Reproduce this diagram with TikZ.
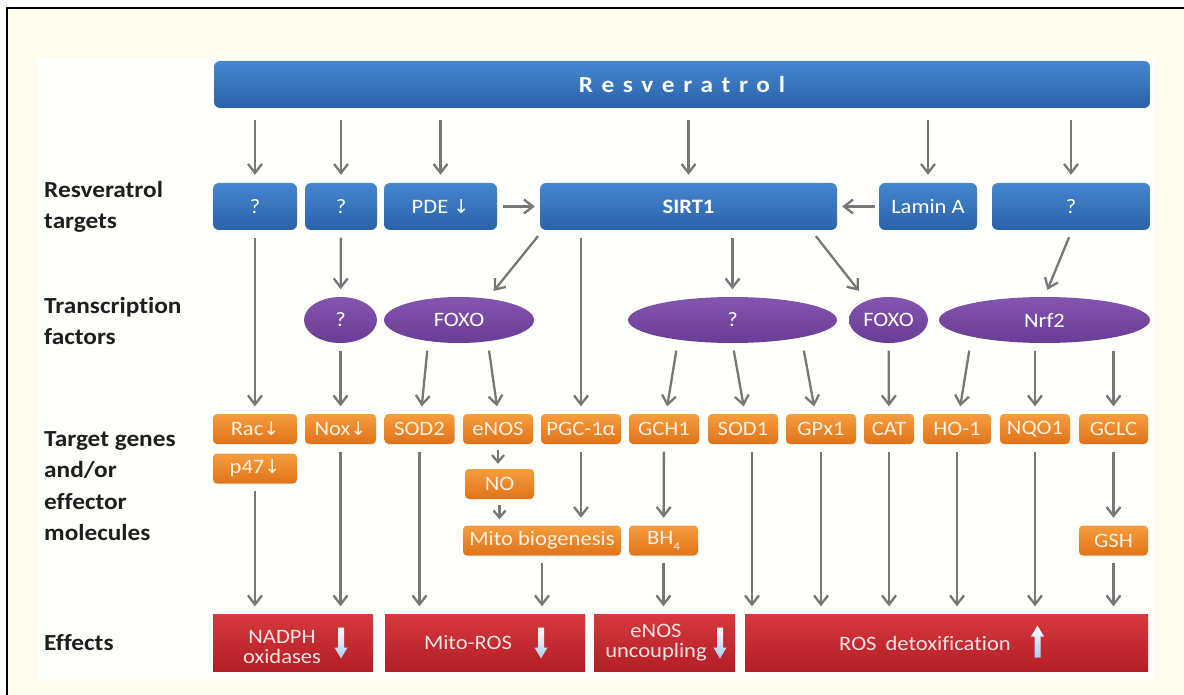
\documentclass[tikz,border=0pt]{standalone}
\usepackage{fontspec}
\setmainfont{Carlito}[FakeStretch=1.1,Ligatures=NoCommon]
\newfontfamily\symf{DejaVu Sans}
\newfontfamily\barfont{Carlito}[FakeStretch=1.1,LetterSpace=38]
\usetikzlibrary{arrows.meta,calc,shapes.geometric}
\definecolor{cream}{HTML}{FFFCEE}
\definecolor{panel}{HTML}{FFFFFB}
\definecolor{blueT}{HTML}{4587D0}
\definecolor{blueB}{HTML}{2A62A8}
\definecolor{purT}{HTML}{8455AE}
\definecolor{purB}{HTML}{693C95}
\definecolor{oraT}{HTML}{F69D3E}
\definecolor{oraB}{HTML}{E0731A}
\definecolor{redT}{HTML}{D6393E}
\definecolor{redB}{HTML}{B31E25}
\definecolor{arrgray}{HTML}{777777}
\definecolor{oratext}{HTML}{FFF0E0}
\definecolor{redtext}{HTML}{FBE3E3}
\definecolor{lblue}{HTML}{A9CDF0}
\definecolor{lbl}{HTML}{1E1E1E}
\newcommand{\dn}{{\symf\fontsize{19}{19}\selectfont ↓}}
\begin{document}
\begin{tikzpicture}[x=1pt,y=-1pt,
  bluebox/.style={rounded corners=6pt, top color=blueT, bottom color=blueB, text=white,
    font=\fontsize{20.5}{22}\selectfont, minimum height=47, inner sep=0},
  tfell/.style={ellipse, top color=purT, bottom color=purB, text=white,
    font=\fontsize{20.5}{22}\selectfont, minimum height=46, inner sep=0},
  orabox/.style={rounded corners=4pt, top color=oraT, bottom color=oraB, text=oratext,
    font=\fontsize{20.5}{22}\selectfont, minimum height=30, inner sep=0},
  redbox/.style={top color=redT, bottom color=redB, minimum height=57, inner sep=0},
  redtxt/.style={text=redtext, align=center, font=\fontsize{20.5}{20}\selectfont, inner sep=0},
  rowlbl/.style={anchor=west, align=left, text=lbl, inner sep=0,
    font=\bfseries\fontsize{23}{31.5}\selectfont},
  arr/.style={draw=arrgray, line width=2.3, -{Straight Barb[length=9,width=14]},
    shorten <=7.5, shorten >=7.5},
  pics/downarr/.style={code={\shade[top color=white, bottom color=lblue]
    (-3,-15) -- (3,-15) -- (3,5) -- (6.5,5) -- (0,16) -- (-6.5,5) -- (-3,5) -- cycle;}},
  pics/uparr/.style={code={\shade[top color=white, bottom color=lblue]
    (-3,16) -- (3,16) -- (3,-5) -- (6.5,-5) -- (0,-16) -- (-6.5,-5) -- (-3,-5) -- cycle;}}
]
\useasboundingbox (0,0) rectangle (1184,695);
\fill[white] (0,0) rectangle (1184,695);
\fill[cream] (7,8) rectangle (1184,695);
\fill[panel] (37,58) rectangle (1155,680);
\draw[black, line width=2.5] (7,695) -- (7,8) -- (1184,8);

% row labels
\node[rowlbl] (l1) at (44,207) {Resveratrol\\targets};
\node[rowlbl] (l2) at (44,321) {Transcription\\factors};
\node[rowlbl] (l3) at (44,486) {Target genes\\and/or\\effector\\molecules};
\node[rowlbl] (l4) at (44,643) {Effects};

% resveratrol bar
\node[bluebox, minimum width=936, font=\barfont\bfseries\fontsize{23}{24}\selectfont] (bar) at (682,84.5) {Resveratrol};

% targets
\node[bluebox, minimum width=84] (q1) at (255,206.5) {?};
\node[bluebox, minimum width=72] (q2) at (341,206.5) {?};
\node[bluebox, minimum width=113] (pde) at (440.5,206.5) {PDE \dn};
\node[bluebox, minimum width=297, font=\bfseries\fontsize{20.5}{22}\selectfont] (sirt) at (688.5,206.5) {SIRT1};
\node[bluebox, minimum width=98] (lamin) at (928,206.5) {Lamin A};
\node[bluebox, minimum width=158] (q3) at (1071,206.5) {?};

% transcription factors
\node[tfell, minimum width=73] (tq) at (340.5,320) {?};
\node[tfell, minimum width=150] (foxo1) at (459,320) {FOXO};
\node[tfell, minimum width=209] (tqb) at (732.5,320) {?};
\node[tfell, minimum width=79] (foxo2) at (888.5,320) {FOXO};
\node[tfell, minimum width=211] (nrf2) at (1044.5,320) {Nrf2};

% target genes
\node[orabox, minimum width=84] (rac) at (255,429) {Rac\dn};
\node[orabox, minimum width=71] (nox) at (340.5,429) {Nox\dn};
\node[orabox, minimum width=70] (sod2) at (419.5,429) {SOD2};
\node[orabox, minimum width=70] (enos) at (498,429) {eNOS};
\node[orabox, minimum width=80] (pgc) at (581,429) {PGC-1α};
\node[orabox, minimum width=70] (gch1) at (664,429) {GCH1};
\node[orabox, minimum width=70] (sod1) at (743,429) {SOD1};
\node[orabox, minimum width=70] (gpx1) at (821,429) {GPx1};
\node[orabox, minimum width=50] (cat) at (889,429) {CAT};
\node[orabox, minimum width=68] (ho1) at (957,429) {HO-1};
\node[orabox, minimum width=70] (nqo1) at (1035,429) {NQO1};
\node[orabox, minimum width=69] (gclc) at (1113.5,429) {GCLC};

\node[orabox, minimum width=84] (p47) at (255,468.5) {p47\dn};
\node[orabox, minimum width=69] (no) at (499.5,484) {NO};
\node[orabox, minimum width=158] (mito) at (542,540.5) {Mito biogenesis};
\node[orabox, minimum width=69] (bh4) at (663.5,540.5) {BH\raisebox{-0.3em}{\fontsize{12}{12}\selectfont 4}};
\node[orabox, minimum width=69] (gsh) at (1113.5,540.5) {GSH};

% effects
\node[redbox, minimum width=160] (nadph) at (293,642.5) {};
\node[redbox, minimum width=200] (mros) at (485,642.5) {};
\node[redbox, minimum width=141] (eunc) at (664.5,642.5) {};
\node[redbox, minimum width=403] (rdet) at (946.5,642.5) {};
\node[redtxt] (t1) at (282,646.5) {NADPH\\oxidases};
\node[redtxt] (t2) at (468,643) {Mito-ROS};
\node[redtxt] (t3) at (656,643) {eNOS\\uncoupling};
\node[redtxt] (t4) at (925,643) {ROS\hspace{4pt} detoxification};
\pic at (341,642.5) {downarr};
\pic at (541,642.5) {downarr};
\pic at (720,642.5) {downarr};
\pic at (1037.5,641.5) {uparr};

% arrows from resveratrol
\foreach \n in {q1,q2,pde,sirt,lamin,q3}
  \draw[arr, shorten <=12, shorten >=8] (bar.south -| \n) -- (\n.north);
\draw[arr, shorten <=6, shorten >=5] (pde) -- (sirt);
\draw[arr, shorten <=4, shorten >=5] (lamin) -- (sirt);

% targets -> TF
\draw[arr] (q2) -- (tq);
\draw[arr] ([xshift=3]sirt.south west) -- ([xshift=30]foxo1.north);
\draw[arr] (sirt.south -| tqb) -- (tqb.north);
\draw[arr] ([xshift=-26]sirt.south east) -- ([xshift=-25]foxo2.north);
\draw[arr] ([xshift=1]q3.south) -- (nrf2.north);
\draw[arr] (q1) -- (rac);
\draw[arr] (sirt.south -| pgc) -- (pgc.north);

% TF -> genes
\draw[arr] (tq) -- (nox);
\draw[arr] ([xshift=-31]foxo1.south) -- ([xshift=1.5]sod2.north);
\draw[arr] ([xshift=29]foxo1.south) -- (enos.north);
\draw[arr] ([xshift=-55]tqb.south) -- ([xshift=2]gch1.north);
\draw[arr] (tqb.south) -- ([xshift=2]sod1.north);
\draw[arr] ([xshift=70]tqb.south) -- ([xshift=-5.5]gpx1.north);
\draw[arr] (foxo2) -- (cat);
\draw[arr] ([xshift=-74]nrf2.south) -- ([xshift=2]ho1.north);
\draw[arr] (nqo1.north |- nrf2.south) -- (nqo1.north);
\draw[arr] (gclc.north |- nrf2.south) -- (gclc.north);

% genes -> effectors
\draw[arr, shorten <=6, shorten >=5, -{Straight Barb[length=7,width=12]}] (enos.south) -- (enos.south |- no.north);
\draw[arr, shorten <=6, shorten >=6, -{Straight Barb[length=7,width=12]}] (no.south) -- (no.south |- mito.north);
\draw[arr] (pgc.south) -- (pgc.south |- mito.north);
\draw[arr] (gch1) -- (bh4);
\draw[arr] (gclc) -- (gsh);

% -> effects
\draw[arr] (p47.south) -- (p47.south |- nadph.north);
\draw[arr] (nox.south) -- (nox.south |- nadph.north);
\draw[arr] (sod2.south) -- (sod2.south |- mros.north);
\draw[arr] (mito.south) -- (mito.south |- mros.north);
\draw[arr] (bh4.south) -- (bh4.south |- eunc.north);
\draw[arr] ([xshift=9]sod1.south) -- ([xshift=9]sod1.south |- rdet.north);
\foreach \n in {gpx1,cat,ho1,nqo1,gsh}
  \draw[arr] (\n.south) -- (\n.south |- rdet.north);
\end{tikzpicture}
\end{document}
